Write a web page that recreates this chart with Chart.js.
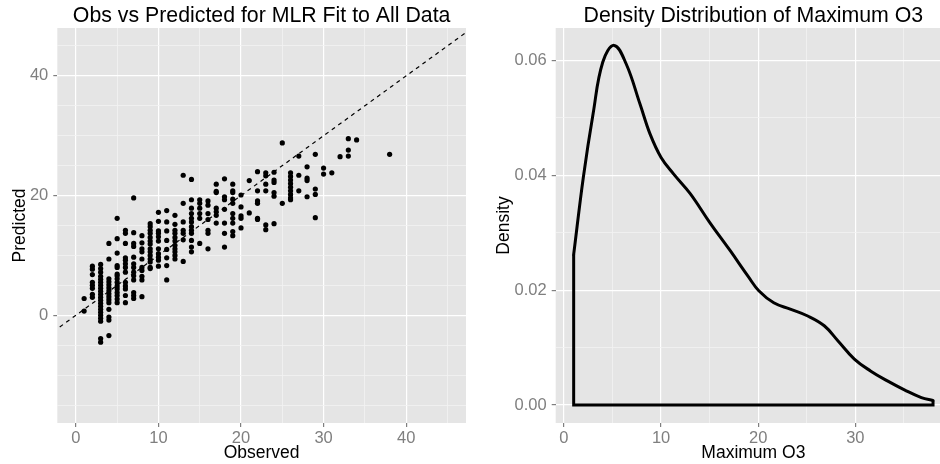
<!DOCTYPE html>
<html><head><meta charset="utf-8">
<script src="https://cdn.jsdelivr.net/npm/chart.js@4.4.1/dist/chart.umd.min.js"></script>
<style>
html,body{margin:0;padding:0;overflow:hidden;background:#fff;width:940px;height:464px;}
#w1{position:absolute;left:0;top:0;width:470px;height:464px;}
#w2{position:absolute;left:470px;top:0;width:481px;height:464px;}
</style></head><body>
<div id="w1"><canvas id="c1" width="470" height="464"></canvas></div>
<div id="w2"><canvas id="c2" width="481" height="464"></canvas></div>
<script>
// ---------- Left panel data: observed vs predicted ----------
const observed = [
  1,1,
  2,2,2,2,2,2,2,2,
  3,3,3,3,3,3,3,3,3,3,3,3,3,3,3,3,3,3,3,3,3,
  4,4,4,4,4,4,4,4,4,4,4,4,4,4,4,
  5,5,5,5,5,5,5,5,5,5,5,5,5,5,5,
  6,6,6,6,6,6,6,6,6,6,6,6,6,
  7,7,7,7,7,7,7,7,7,7,7,7,7,
  8,8,8,8,8,8,8,8,8,8,
  9,9,9,9,9,9,9,9,9,9,9,9,9,9,
  10,10,10,10,10,10,10,10,10,10,10,
  11,11,11,11,11,11,11,11,
  12,12,12,12,12,12,12,12,12,12,12,
  13,13,13,13,13,13,13,
  14,14,14,14,14,14,14,14,14,14,14,14,
  15,15,15,15,15,15,
  16,16,16,16,16,16,16,
  17,17,17,17,17,17,17,
  18,18,18,18,18,18,18,
  19,19,19,19,19,19,19,19,19,19,
  20,20,20,20,20,
  21,21,
  22,22,22,22,22,22,
  23,23,23,23,23,23,
  24,24,24,24,24,24,
  25,25,
  26,26,26,26,26,26,26,26,26,
  27,27,27,
  28,28,28,28,
  29,29,29,29,
  30,30,
  31,
  32,
  33,33,33,
  34,
  38
];
const predicted = [
  2.8,0.7,
  8.2,7.7,6.8,5.5,5.0,4.5,3.5,3.0,
  8.5,7.8,7.2,6.5,6.0,5.5,5.0,4.5,4.0,3.5,3.0,2.5,2.0,1.5,1.0,0.5,0.0,-0.5,-1.0,-3.9,-4.5,
  12.0,9.4,6.1,5.6,5.1,4.6,4.1,3.6,3.1,2.6,2.1,1.0,-0.3,-0.8,-3.4,
  16.2,12.8,10.4,8.3,8.0,6.9,6.6,6.1,5.5,4.9,4.4,3.8,3.3,2.7,2.1,
  14.2,13.7,12.0,9.6,9.2,8.6,8.0,7.2,5.5,4.9,4.4,3.3,2.1,
  19.6,13.8,12.0,11.5,9.7,8.6,8.0,7.2,6.6,5.9,3.8,3.3,2.8,
  13.3,12.1,11.1,10.6,9.4,8.0,7.5,6.5,5.9,3.1,
  15.3,14.8,14.2,13.7,13.0,12.4,11.9,11.1,10.6,10.0,9.4,8.9,8.0,7.8,
  17.2,15.7,14.1,13.7,13.1,12.4,11.1,10.3,9.7,9.2,8.2,
  17.5,15.6,14.1,12.5,11.0,9.6,8.3,5.9,
  16.7,15.2,14.2,13.7,13.0,12.4,11.7,11.1,10.6,10.0,9.4,
  23.4,18.7,15.6,14.2,13.7,12.6,9.0,
  22.7,19.3,17.9,17.0,16.2,15.6,14.8,14.2,13.7,12.5,11.4,10.6,
  19.3,18.7,17.9,17.0,16.2,12.0,
  19.1,18.4,17.0,16.0,14.2,13.7,11.1,
  21.9,20.7,20.5,17.9,17.3,16.7,15.4,
  22.8,19.8,19.3,17.7,15.4,13.7,11.4,
  21.9,20.8,20.5,19.4,18.7,17.0,16.2,15.4,14.0,13.3,
  20.1,18.1,16.6,16.2,14.6,
  22.5,17.1,
  24.0,20.8,19.1,18.7,16.2,16.0,
  23.8,23.3,21.9,20.8,15.1,14.3,
  23.9,22.6,22.2,20.5,19.9,15.3,
  28.8,18.7,
  23.8,23.2,22.6,22.0,21.4,20.8,20.2,19.6,19.3,
  26.6,23.4,20.8,
  24.8,22.9,22.5,19.8,
  26.9,21.1,20.2,16.3,
  24.6,23.6,
  23.8,
  26.5,
  29.5,27.6,26.6,
  29.3,
  26.9
];
// reference line y = x (identity), endpoints in data units
const identityX = [-20, 60];

// left axes
const leftXTicks = [0,5,10,15,20,25,30,35,40,45];
const leftXMajor = [0,10,20,30,40];
const leftYTicks = [-15,-10,-5,0,5,10,15,20,25,30,35,40,45];
const leftYMajor = [0,20,40];

// ---------- Right panel data: density of maximum O3 ----------
const densityX = [1, 2, 3, 4, 5.17, 6.4, 7.83, 8.86, 10, 11.3, 13, 15, 17.1, 19, 20.06, 21.6, 23.3, 25.1, 26.8, 28.2, 29.9, 31.6, 33.3, 35.1, 36.8, 38];
const densityY = [0.0262, 0.0397, 0.0507, 0.0597, 0.0626, 0.0594, 0.0524, 0.0472, 0.0431, 0.0402, 0.0368, 0.0318, 0.0269, 0.0223, 0.0199, 0.0178, 0.0167, 0.0155, 0.0138, 0.0112, 0.0080, 0.0059, 0.0042, 0.0026, 0.0013, 0.0008];

const rightXTicks = [0,5,10,15,20,25,30,35];
const rightXMajor = [0,10,20,30];
const rightYTicks = [0,0.01,0.02,0.03,0.04,0.05,0.06];
const rightYMajor = [0,0.02,0.04,0.06];

// ---------- styling ----------
const FONT = '"Liberation Sans", Arial, Helvetica, sans-serif';
const PANEL_BG = '#E5E5E5';
const MAJOR_GRID = '#FFFFFF';
const MINOR_GRID = '#F2F2F2';
const TICK_COL = '#7F7F7F';

const panelBg = {
  id: 'panelBg',
  beforeDraw(chart) {
    const a = chart.chartArea, ctx = chart.ctx;
    ctx.save();
    ctx.fillStyle = PANEL_BG;
    ctx.fillRect(a.left, a.top, a.right - a.left, a.bottom - a.top);
    ctx.restore();
  }
};

const isIn = (v, arr) => arr.some(m => Math.abs(m - v) < 1e-9);

function axis(cfg) {
  return {
    type: 'linear',
    min: cfg.min, max: cfg.max,
    afterBuildTicks: s => { s.ticks = cfg.ticks.map(v => ({ value: v })); },
    afterFit: s => { if (cfg.width !== undefined) s.width = cfg.width; if (cfg.height !== undefined) s.height = cfg.height; },
    border: { display: false },
    grid: {
      color: c => (c.tick && isIn(c.tick.value, cfg.major)) ? MAJOR_GRID : MINOR_GRID,
      lineWidth: c => (c.tick && isIn(c.tick.value, cfg.major)) ? 1.2 : 0.8,
      tickColor: c => (c.tick && isIn(c.tick.value, cfg.major)) ? TICK_COL : 'rgba(0,0,0,0)',
      tickLength: 4,
      drawTicks: true
    },
    ticks: {
      autoSkip: false, maxRotation: 0, minRotation: 0,
      padding: cfg.tickPad,
      color: TICK_COL,
      font: { family: FONT, size: 16.5 },
      callback: v => isIn(v, cfg.major) ? cfg.fmt(v) : ''
    },
    title: {
      display: true, text: cfg.title, color: '#000',
      font: { family: FONT, size: 17.5, lineHeight: 1.2 },
      padding: cfg.titlePad
    }
  };
}

function baseOptions(titleText, xCfg, yCfg) {
  return {
    responsive: false,
    animation: false,
    events: [],
    layout: { padding: 0 },
    plugins: {
      legend: { display: false },
      tooltip: { enabled: false },
      title: {
        display: true, text: titleText, color: '#000', fullSize: false,
        font: { family: FONT, size: 21.3, weight: 'normal', lineHeight: 1 },
        padding: { top: 5.7, bottom: 1 }
      }
    },
    scales: { x: axis(xCfg), y: axis(yCfg) }
  };
}

// ---------- Left chart ----------
const scatterPts = observed.map((o, i) => ({ x: o, y: predicted[i] }));
const identityPts = identityX.map(v => ({ x: v, y: v }));

new Chart(document.getElementById('c1'), {
  type: 'scatter',
  data: {
    datasets: [
      { data: identityPts, showLine: true, borderColor: '#000', borderWidth: 1.2, borderDash: [4, 4], pointRadius: 0, fill: false },
      { data: scatterPts, pointRadius: 2.6, pointBorderWidth: 0, backgroundColor: '#000', borderColor: '#000' }
    ]
  },
  options: baseOptions('Obs vs Predicted for MLR Fit to All Data',
    { min: -2.25, max: 47.25, ticks: leftXTicks, major: leftXMajor, fmt: v => String(v), height: 41, tickPad: 2, title: 'Observed', titlePad: { top: 0, bottom: 0 } },
    { min: -18, max: 48, ticks: leftYTicks, major: leftYMajor, fmt: v => String(v), width: 57.3, tickPad: 5, title: 'Predicted', titlePad: { top: 9.5, bottom: 0 } }
  ),
  plugins: [panelBg]
});

// ---------- Right chart ----------
const curvePts = densityX.map((x, i) => ({ x, y: densityY[i] }));
const first = curvePts[0], last = curvePts[curvePts.length - 1];
const outlinePts = [ { x: last.x, y: last.y }, { x: last.x, y: 0 }, { x: first.x, y: 0 }, { x: first.x, y: first.y } ];

new Chart(document.getElementById('c2'), {
  type: 'scatter',
  data: {
    datasets: [
      { data: curvePts, showLine: true, tension: 0.4, borderColor: '#000', borderWidth: 3, pointRadius: 0, fill: false, borderCapStyle: 'round' },
      { data: outlinePts, showLine: true, tension: 0, borderColor: '#000', borderWidth: 3, pointRadius: 0, fill: false, borderJoinStyle: 'miter' }
    ]
  },
  options: baseOptions('Density Distribution of Maximum O3',
    { min: -0.85, max: 39.85, ticks: rightXTicks, major: rightXMajor, fmt: v => String(v), height: 41, tickPad: 2, title: 'Maximum O3', titlePad: { top: 0, bottom: 0 } },
    { min: -0.003125, max: 0.065625, ticks: rightYTicks, major: rightYMajor, fmt: v => v.toFixed(2), width: 85.7, tickPad: 5, title: 'Density', titlePad: { top: 24, bottom: 0 } }
  ),
  plugins: [panelBg]
});
</script>
</body></html>
